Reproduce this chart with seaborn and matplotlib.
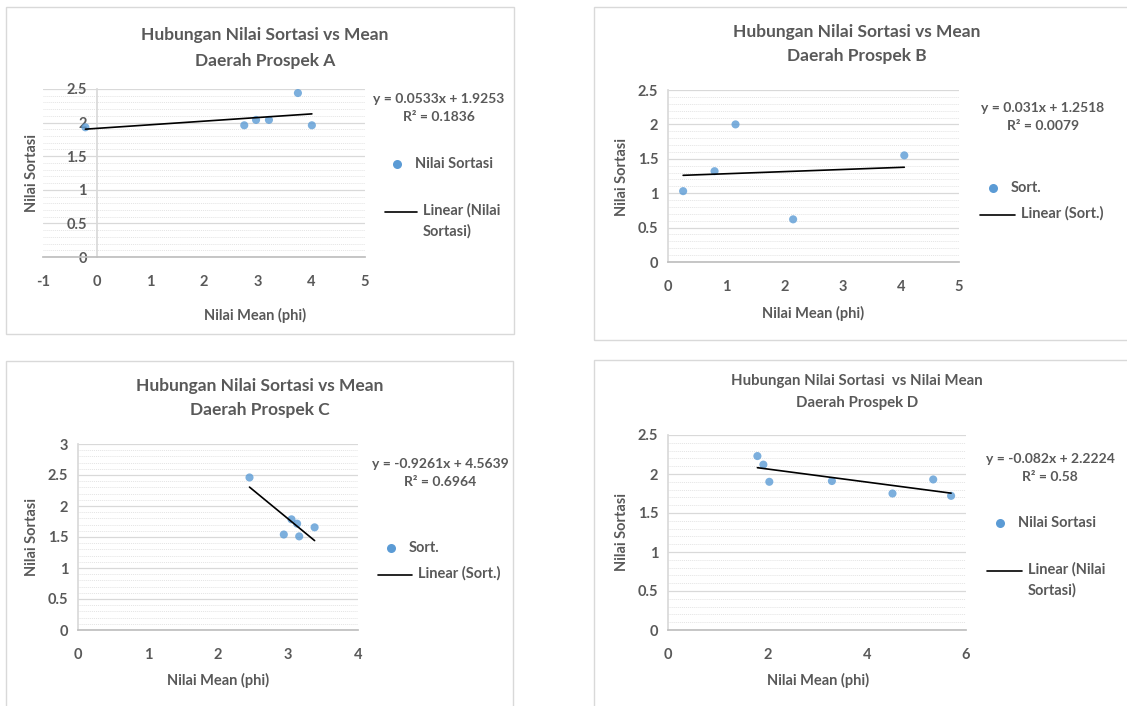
import numpy as np
import matplotlib
matplotlib.use("Agg")
import matplotlib.pyplot as plt
from matplotlib.patches import Rectangle
from matplotlib.lines import Line2D
from matplotlib.ticker import MultipleLocator, FuncFormatter
import seaborn as sns

# data
mean_a = [-0.21, 2.75, 2.97, 3.21, 3.75, 4.01]
sort_a = [1.93, 1.96, 2.04, 2.04, 2.44, 1.96]

mean_b = [0.26, 0.80, 1.16, 2.15, 4.06]
sort_b = [1.03, 1.32, 2.00, 0.62, 1.55]

mean_c = [2.45, 2.94, 3.05, 3.13, 3.16, 3.38]
sort_c = [2.46, 1.54, 1.785, 1.715, 1.51, 1.656]

mean_d = [1.80, 1.92, 2.04, 3.30, 4.52, 5.34, 5.70]
sort_d = [2.23, 2.12, 1.90, 1.91, 1.75, 1.93, 1.72]

titles = ["Hubungan Nilai Sortasi vs Mean\nDaerah Prospek A",
          "Hubungan Nilai Sortasi vs Mean\nDaerah Prospek B",
          "Hubungan Nilai Sortasi vs Mean\nDaerah Prospek C",
          "Hubungan Nilai Sortasi  vs Nilai Mean\nDaerah Prospek D"]
equations = ["y = 0.0533x + 1.9253\nR² = 0.1836",
             "y = 0.031x + 1.2518\nR² = 0.0079",
             "y = -0.9261x + 4.5639\nR² = 0.6964",
             "y = -0.082x + 2.2224\nR² = 0.58"]
point_labels = ["Nilai Sortasi", "Sort.", "Sort.", "Nilai Sortasi"]
line_labels = ["Linear (Nilai\nSortasi)", "Linear (Sort.)", "Linear (Sort.)", "Linear (Nilai\nSortasi)"]

sns.set_theme(style="white")
plt.rcParams["font.family"] = ["Lato", "DejaVu Sans"]

W, H = 1127, 706
fig = plt.figure(figsize=(W / 100, H / 100), dpi=100)

GREY = "#595959"
BLUE = "#5B9BD5"


def fx(x):
    return x / W


def fy(y):
    return 1 - y / H


# layout in pixels (top-left origin)
panels = [
    dict(x=mean_a, y=sort_a, box=(6, 7, 514, 334), ax=(43, 89, 365, 257),
         xlim=(-1, 5), xstep=1, ylim=(0, 2.5),
         title=(265, 48, 12.5, 1.7), eq=(439, 108), mk=(397, 164), ln=(385, 417, 212),
         xl=(255, 315), yl=(32, 173)),
    dict(x=mean_b, y=sort_b, box=(594, 7, 1140, 340), ax=(668, 90, 959, 262),
         xlim=(0, 5), xstep=1, ylim=(0, 2.5),
         title=(857, 44, 12.5, 1.6), eq=(1043, 117), mk=(993, 188), ln=(980, 1015, 215),
         xl=(813, 313), yl=(622, 177)),
    dict(x=mean_c, y=sort_c, box=(6, 361, 513, 720), ax=(78, 444, 358, 630),
         xlim=(0, 4), xstep=1, ylim=(0, 3),
         title=(260, 398, 12.5, 1.6), eq=(440, 473), mk=(391, 548), ln=(378, 412, 575),
         xl=(218, 680), yl=(32, 537)),
    dict(x=mean_d, y=sort_d, box=(594, 360, 1140, 720), ax=(668, 435, 966, 630),
         xlim=(0, 6), xstep=2, ylim=(0, 2.5),
         title=(857, 392, 10.8, 1.65), eq=(1050, 468), mk=(1000, 523), ln=(987, 1022, 571),
         xl=(818, 680), yl=(622, 532)),
]

for i, p in enumerate(panels):
    bl, bt, br, bb = p["box"]
    fig.add_artist(Rectangle((fx(bl), fy(bb)), fx(br - bl), (bb - bt) / H,
                             transform=fig.transFigure, fill=False,
                             edgecolor="#d9d9d9", lw=1.0))

    l, t, r, b = p["ax"]
    ax = fig.add_axes([fx(l), fy(b), fx(r - l), (b - t) / H])
    ax.set_xlim(*p["xlim"])
    ax.set_ylim(*p["ylim"])
    ax.xaxis.set_major_locator(MultipleLocator(p["xstep"]))
    ax.yaxis.set_major_locator(MultipleLocator(0.5))
    ax.yaxis.set_minor_locator(MultipleLocator(0.1))
    ax.grid(True, which="major", axis="y", color="#d9d9d9", lw=0.9)
    ax.grid(True, which="minor", axis="y", color="#e4e4e4", lw=0.7, ls=(0, (1, 1)))
    ax.grid(False, axis="x")
    ax.set_axisbelow(True)
    for s in ["top", "right"]:
        ax.spines[s].set_visible(False)
    ax.spines["left"].set_position(("data", 0))
    ax.spines["left"].set_color("#d9d9d9")
    ax.spines["bottom"].set_color("#bfbfbf")
    ax.tick_params(axis="both", which="both", length=0, labelsize=10.5,
                   labelcolor=GREY)
    ax.tick_params(axis="x", pad=13)
    ax.tick_params(axis="y", pad=7)
    for lab in ax.get_xticklabels() + ax.get_yticklabels():
        lab.set_fontweight("bold")
    ax.xaxis.set_major_formatter(FuncFormatter(lambda v, _: f"{v:g}"))
    ax.yaxis.set_major_formatter(FuncFormatter(lambda v, _: f"{v:g}"))

    sns.regplot(x=np.array(p["x"]), y=np.array(p["y"]), ax=ax, ci=None, truncate=True,
                scatter_kws=dict(color=BLUE, s=34, edgecolor="none", zorder=3, clip_on=False),
                line_kws=dict(color="black", lw=1.2, zorder=4))
    ax.set_xlabel("")
    ax.set_ylabel("")

    tx, ty, ts, tls = p["title"]
    fig.text(fx(tx), fy(ty), titles[i], ha="center", va="center", fontsize=ts,
             fontweight="bold", color=GREY, linespacing=tls)
    ex, ey = p["eq"]
    fig.text(fx(ex), fy(ey), equations[i], ha="center", va="center", fontsize=10,
             fontweight="bold", color=GREY, linespacing=1.6)

    mx, my = p["mk"]
    fig.add_artist(Line2D([fx(mx)], [fy(my)], transform=fig.transFigure, marker="o",
                          ms=6.5, color=BLUE, mec="none", ls="none"))
    fig.text(fx(mx + 18), fy(my), point_labels[i], ha="left", va="center",
             fontsize=10.5, fontweight="bold", color=GREY)
    l1, l2, ly = p["ln"]
    fig.add_artist(Line2D([fx(l1), fx(l2)], [fy(ly), fy(ly)], transform=fig.transFigure,
                          color="black", lw=1.2))
    fig.text(fx(l2 + 6), fy(ly - 9), line_labels[i], ha="left", va="top",
             fontsize=10.5, fontweight="bold", color=GREY, linespacing=1.6)

    xlx, xly = p["xl"]
    fig.text(fx(xlx), fy(xly), "Nilai Mean (phi)", ha="center", va="center",
             fontsize=10.5, fontweight="bold", color=GREY)
    ylx, yly = p["yl"]
    fig.text(fx(ylx), fy(yly), "Nilai Sortasi", ha="center", va="center", rotation=90,
             fontsize=10.5, fontweight="bold", color=GREY)

fig.savefig("out.png", dpi=100, facecolor="white")
